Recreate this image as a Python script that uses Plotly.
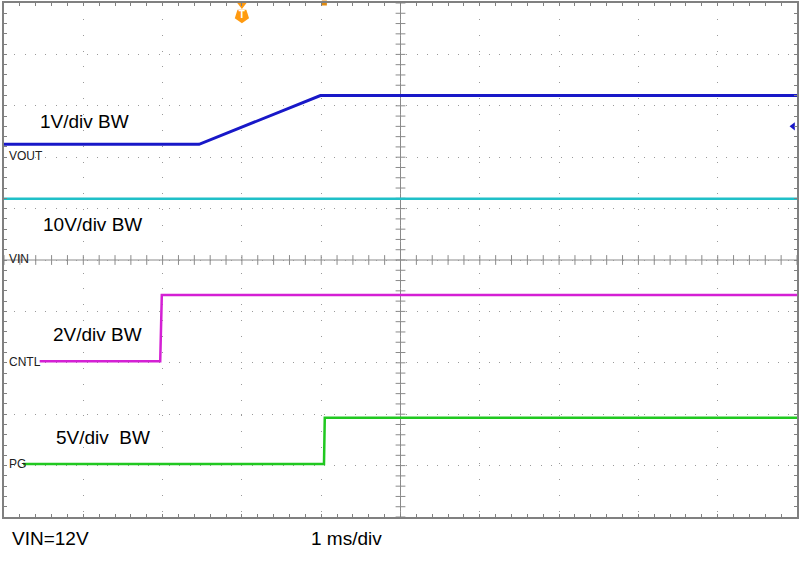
import numpy as np
import plotly.graph_objects as go

# Time in divisions (1 ms/div), level in screen divisions (0 = bottom)
t_vout = [0.0, 2.46, 3.99, 10.0]
v_vout = [7.25, 7.25, 8.20, 8.20]

t_vin = [0.0, 10.0]
v_vin = [6.19, 6.19]

t_cntl = [0.45, 1.97, 1.99, 10.0]
v_cntl = [3.03, 3.03, 4.32, 4.32]

t_pg = [0.24, 4.035, 4.045, 10.0]
v_pg = [1.03, 1.03, 1.93, 1.93]

channel_names = ["VOUT", "VIN", "CNTL", "PG"]
channel_ground = [7.02, 5.02, 3.02, 1.03]
scale_labels = ["1V/div BW", "10V/div BW", "2V/div BW", "5V/div  BW"]
scale_label_x = [0.43, 0.47, 0.59, 0.63]
scale_label_y = [7.69, 5.70, 3.55, 1.55]

trigger_time = 3.0
vout_trig_level = 7.6

C_VOUT = "#1818c8"
C_VIN = "#20c0c8"
C_CNTL = "#d420d4"
C_PG = "#20c820"
GRID = "#9a9a9a"

fig = go.Figure()

# center cross ticks
minor = np.round(np.arange(0, 10.001, 0.2), 2)
fig.add_trace(go.Scatter(x=minor, y=[5] * len(minor), mode="markers",
                         marker=dict(symbol="line-ns", size=7, line=dict(color="#8a8a8a", width=1)),
                         hoverinfo="skip", showlegend=False))
fig.add_trace(go.Scatter(x=[5] * len(minor), y=minor, mode="markers",
                         marker=dict(symbol="line-ew", size=7, line=dict(color="#8a8a8a", width=1)),
                         hoverinfo="skip", showlegend=False))

fig.add_trace(go.Scatter(x=t_vin, y=v_vin, mode="lines", line=dict(color=C_VIN, width=2.5),
                         showlegend=False, name="VIN"))
fig.add_trace(go.Scatter(x=t_vout, y=v_vout, mode="lines", line=dict(color=C_VOUT, width=3),
                         showlegend=False, name="VOUT"))
fig.add_trace(go.Scatter(x=t_cntl, y=v_cntl, mode="lines", line=dict(color=C_CNTL, width=2.5),
                         showlegend=False, name="CNTL"))
fig.add_trace(go.Scatter(x=t_pg, y=v_pg, mode="lines", line=dict(color=C_PG, width=2.5),
                         showlegend=False, name="PG"))

# trigger marker
fig.add_trace(go.Scatter(x=[trigger_time], y=[9.75], mode="markers+text",
                         marker=dict(symbol="pentagon", size=15, color="#ff9a10", angle=180),
                         text=["<b>T</b>"], textfont=dict(color="white", size=10, family="Liberation Sans"),
                         textposition="middle center", cliponaxis=False,
                         hoverinfo="skip", showlegend=False))
fig.add_trace(go.Scatter(x=[trigger_time], y=[9.96], mode="markers",
                         marker=dict(symbol="triangle-down", size=8, color="#ff9a10"),
                         cliponaxis=False, hoverinfo="skip", showlegend=False))
fig.add_trace(go.Scatter(x=[4.04], y=[10.0], mode="markers",
                         marker=dict(symbol="square", size=5, color="#e08a10"),
                         cliponaxis=False, hoverinfo="skip", showlegend=False))
fig.add_trace(go.Scatter(x=[9.95], y=[vout_trig_level], mode="markers",
                         marker=dict(symbol="triangle-left", size=7, color=C_VOUT),
                         cliponaxis=False, hoverinfo="skip", showlegend=False))

fig.add_shape(type="line", x0=5, x1=5, y0=0, y1=10, xref="x", yref="y",
              line=dict(color="#8a8a8a", width=1), layer="below")
fig.add_shape(type="line", x0=0, x1=10, y0=5, y1=5, xref="x", yref="y",
              line=dict(color="#8a8a8a", width=1), layer="below")

for name, g in zip(channel_names, channel_ground):
    fig.add_annotation(x=0.04, y=g, xref="x", yref="y", text=name, showarrow=False,
                       xanchor="left", yanchor="middle",
                       font=dict(family="Liberation Sans", size=12, color="#202020"))

for lab, lx, ly in zip(scale_labels, scale_label_x, scale_label_y):
    fig.add_annotation(x=lx, y=ly, xref="x", yref="y", text=lab.replace("  ", "&nbsp; "),
                       showarrow=False, xanchor="left", yanchor="middle",
                       font=dict(family="Liberation Sans", size=19, color="black"))

fig.add_annotation(x=0.0075, y=-0.041, xref="paper", yref="paper", text="VIN=12V",
                   showarrow=False, xanchor="left", yanchor="middle",
                   font=dict(family="Liberation Sans", size=19, color="black"))
fig.add_annotation(x=0.385, y=-0.041, xref="paper", yref="paper", text="1 ms/div",
                   showarrow=False, xanchor="left", yanchor="middle",
                   font=dict(family="Liberation Sans", size=19, color="black"))

axis_common = dict(range=[0, 10], dtick=1, showgrid=True, gridcolor=GRID, gridwidth=1,
                   zeroline=False, showline=True, linecolor="#808080", linewidth=2,
                   mirror="ticks", ticks="inside", ticklen=3, tickcolor="#808080",
                   showticklabels=False, fixedrange=True,
                   minor=dict(ticks="inside", dtick=0.2, ticklen=3, tickcolor="#808080", showgrid=False))

fig.update_xaxes(**axis_common, griddash="1px,14.86px")
fig.update_yaxes(**axis_common, griddash="1px,9.32px")

fig.update_layout(width=800, height=561, margin=dict(l=4, r=3, t=1, b=44),
                  paper_bgcolor="white", plot_bgcolor="white", showlegend=False)

fig.write_html("out.html", config={"displayModeBar": False},
               post_script="document.body.style.margin='0px';")
